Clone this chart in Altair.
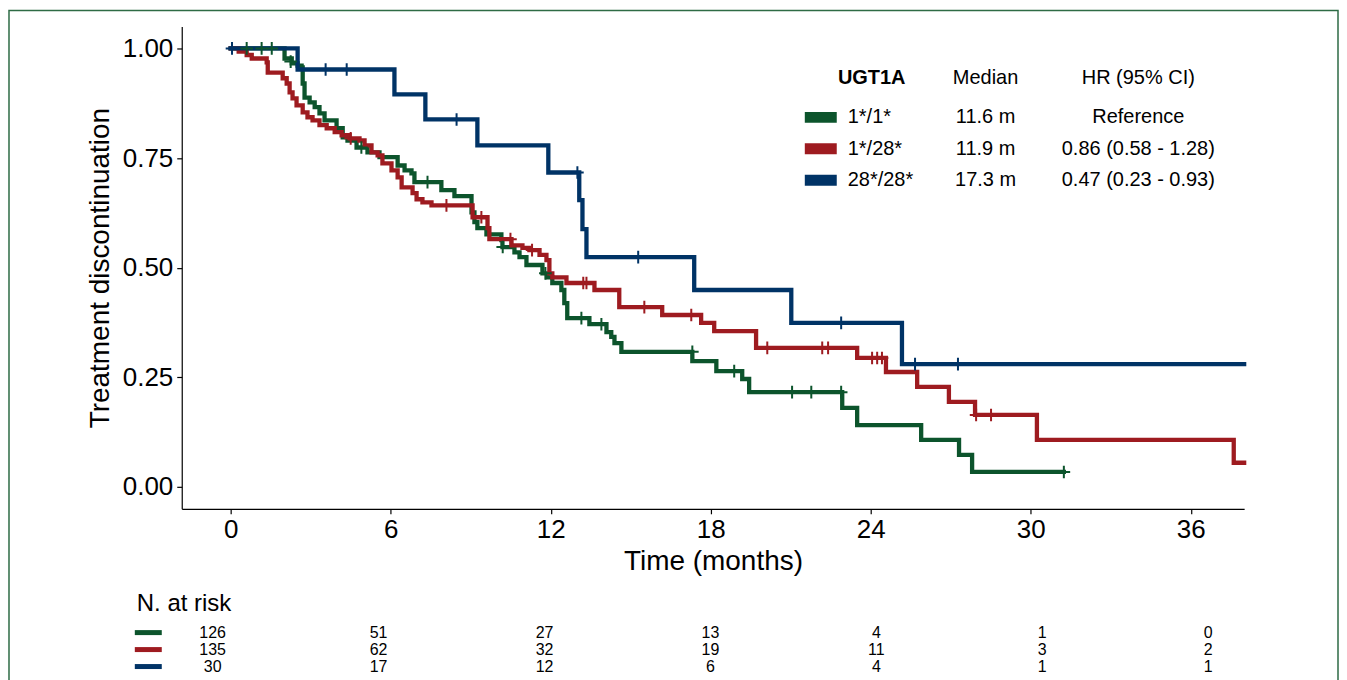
import altair as alt
import pandas as pd

FONT = "Liberation Sans"

groups = ["1*/1*", "1*/28*", "28*/28*"]
colors = ["#0C542C", "#9E1B20", "#003366"]
medians = ["11.6 m", "11.9 m", "17.3 m"]
hrs = ["Reference", "0.86 (0.58 - 1.28)", "0.47 (0.23 - 0.93)"]

# Kaplan-Meier step points (time in months, proportion)
g_t = [0, 2.02, 2.29, 2.51, 2.66, 2.70, 2.77, 2.96, 3.15, 3.33, 3.52, 3.97, 4.20, 4.38, 4.72, 5.13, 5.58,
       6.26, 6.52, 6.78, 6.89, 7.90, 8.39, 9.03, 9.14, 9.25, 9.59, 10.15, 10.19, 10.64, 10.83, 11.09, 11.69,
       11.88, 12.06, 12.40, 12.51, 12.62, 13.45, 14.09, 14.27, 14.39, 14.65, 17.31, 18.21, 19.18, 19.44,
       22.93, 23.49, 25.89, 27.31, 27.80, 31.24]
g_s = [1.0, 0.977, 0.966, 0.961, 0.957, 0.920, 0.888, 0.877, 0.866, 0.852, 0.836, 0.818, 0.797, 0.790, 0.774,
       0.763, 0.752, 0.733, 0.722, 0.715, 0.695, 0.677, 0.663, 0.626, 0.604, 0.590, 0.576, 0.563, 0.547, 0.535,
       0.524, 0.506, 0.487, 0.478, 0.465, 0.449, 0.419, 0.385, 0.371, 0.353, 0.342, 0.328, 0.308, 0.287, 0.264,
       0.246, 0.216, 0.180, 0.141, 0.107, 0.073, 0.034, 0.034]
g_ct = [0.6, 1.16, 1.54, 2.25, 4.9, 7.38, 10.2, 11.8, 13.15, 13.9, 17.31, 18.88, 21.05, 21.77, 22.89, 31.24]
g_cs = [1.0, 1.0, 1.0, 0.970, 0.774, 0.695, 0.547, 0.487, 0.385, 0.371, 0.308, 0.264, 0.216, 0.216, 0.216, 0.034]

r_t = [0, 0.3, 0.6, 0.79, 1.35, 1.39, 1.95, 2.10, 2.21, 2.32, 2.47, 2.70, 2.88, 3.07, 3.33, 3.60, 3.90, 4.16,
       4.46, 4.83, 5.02, 5.28, 5.51, 5.69, 6.03, 6.26, 6.41, 6.82, 6.97, 7.19, 7.53, 9.07, 9.63, 9.70, 10.53,
       10.94, 11.20, 11.58, 11.84, 11.95, 12.06, 12.59, 13.64, 14.57, 16.18, 17.64, 18.13, 19.70, 23.49, 24.57,
       25.74, 26.93, 27.91, 30.23, 37.61, 38.0]
r_s = [1.0, 0.993, 0.985, 0.977, 0.968, 0.945, 0.932, 0.920, 0.900, 0.886, 0.870, 0.854, 0.843, 0.836, 0.825,
       0.818, 0.809, 0.802, 0.795, 0.790, 0.779, 0.763, 0.756, 0.738, 0.722, 0.706, 0.683, 0.670, 0.656, 0.649,
       0.642, 0.615, 0.590, 0.565, 0.551, 0.545, 0.540, 0.529, 0.517, 0.487, 0.478, 0.465, 0.449, 0.410, 0.392,
       0.374, 0.355, 0.317, 0.294, 0.262, 0.228, 0.194, 0.164, 0.107, 0.055, 0.055]
r_ct = [4.5, 8.09, 9.40, 10.49, 11.3, 13.22, 13.34, 15.51, 17.27, 20.12, 22.18, 22.40, 24.05, 24.24, 24.42,
        27.95, 28.51]
r_cs = [0.795, 0.642, 0.615, 0.565, 0.540, 0.465, 0.465, 0.410, 0.392, 0.317, 0.317, 0.317, 0.294, 0.294,
        0.294, 0.164, 0.164]

b_t = [0, 2.51, 6.14, 7.30, 9.25, 11.91, 13.07, 13.19, 13.34, 17.38, 21.02, 25.17, 38.0]
b_s = [1.0, 0.952, 0.895, 0.838, 0.779, 0.717, 0.654, 0.588, 0.524, 0.449, 0.374, 0.280, 0.280]
b_ct = [0.05, 3.56, 4.35, 8.47, 13.0, 15.28, 22.89, 25.66, 27.27]
b_cs = [1.0, 0.952, 0.952, 0.838, 0.717, 0.524, 0.374, 0.280, 0.280]

risk_times = [0, 6, 12, 18, 24, 30, 36]
risk_g = [126, 51, 27, 13, 4, 1, 0]
risk_r = [135, 62, 32, 19, 11, 3, 2]
risk_b = [30, 17, 12, 6, 4, 1, 1]

x_ticks = [0, 6, 12, 18, 24, 30, 36]
y_ticks = [0, 0.25, 0.5, 0.75, 1.0]

curves = [(g_t, g_s, g_ct, g_cs), (r_t, r_s, r_ct, r_cs), (b_t, b_s, b_ct, b_cs)]
risks = [risk_g, risk_r, risk_b]

x_scale = alt.Scale(domain=[-1.835, 38.0], nice=False, zero=False)
y_scale = alt.Scale(domain=[-0.05, 1.05], nice=False, zero=False)
risk_scale = alt.Scale(domain=[-1.119, 37.30], nice=False, zero=False)

x_axis = alt.Axis(values=x_ticks, title="Time (months)", labelFontSize=26, titleFontSize=28, tickSize=5,
                  labelPadding=3, titlePadding=5, domainColor="black", tickColor="black", labelColor="black",
                  titleColor="black", grid=False, titleFontWeight="normal", domainWidth=1.2, tickWidth=1.2,
                  labelFont=FONT, titleFont=FONT, labelFlush=False)
y_axis = alt.Axis(values=y_ticks, format=".2f", title="Treatment discontinuation", labelFontSize=26,
                  titleFontSize=28, tickSize=5, labelPadding=4, titlePadding=8, domainColor="black",
                  tickColor="black", labelColor="black", titleColor="black", grid=False,
                  titleFontWeight="normal", domainWidth=1.2, tickWidth=1.2, labelFont=FONT, titleFont=FONT,
                  labelFlush=False)

PLUS = "M-1,0L1,0M0,-1L0,1"

main_layers = []
# frame around the figure
main_layers.append(
    alt.Chart(pd.DataFrame({"k": [0]})).mark_rect(fill="transparent", stroke="#2E6B45", strokeWidth=1.5)
    .encode(x=alt.value(-173), x2=alt.value(1158), y=alt.value(-16), y2=alt.value(700))
)
for (t, s, ct, cs), col in zip(curves, colors):
    df = pd.DataFrame({"time": t, "surv": s})
    main_layers.append(
        alt.Chart(df).mark_line(interpolate="step-after", strokeWidth=4.3, color=col, strokeCap="square")
        .encode(x=alt.X("time:Q", scale=x_scale, axis=x_axis),
                y=alt.Y("surv:Q", scale=y_scale, axis=y_axis))
    )
for (t, s, ct, cs), col in zip(curves, colors):
    dfc = pd.DataFrame({"time": ct, "surv": cs})
    main_layers.append(
        alt.Chart(dfc).mark_point(shape=PLUS, size=160, strokeWidth=2, filled=False, color=col, opacity=1)
        .encode(x=alt.X("time:Q", scale=x_scale, axis=x_axis),
                y=alt.Y("surv:Q", scale=y_scale, axis=y_axis))
    )

# in-plot legend table
hdr = pd.DataFrame({"txt": ["UGT1A"]})
main_layers.append(alt.Chart(hdr).mark_text(fontSize=20, fontWeight="bold", align="center", baseline="middle",
                                            color="black")
                   .encode(x=alt.value(691), y=alt.value(52), text="txt:N"))
main_layers.append(alt.Chart(pd.DataFrame({"txt": ["Median"]})).mark_text(fontSize=20, align="center",
                                                                         baseline="middle", color="black")
                   .encode(x=alt.value(805), y=alt.value(52), text="txt:N"))
main_layers.append(alt.Chart(pd.DataFrame({"txt": ["HR (95% CI)"]})).mark_text(fontSize=20, align="center",
                                                                              baseline="middle", color="black")
                   .encode(x=alt.value(958), y=alt.value(52), text="txt:N"))
for i, (g, col, med, hr) in enumerate(zip(groups, colors, medians, hrs)):
    yy = 91 + i * 31.5
    row = pd.DataFrame({"grp": [g], "median": [med], "hr": [hr]})
    base = alt.Chart(row)
    main_layers.append(base.mark_rule(strokeWidth=11, color=col)
                       .encode(x=alt.value(624), x2=alt.value(656), y=alt.value(yy)))
    main_layers.append(base.mark_text(fontSize=20, align="left", baseline="middle", color="black")
                       .encode(x=alt.value(667), y=alt.value(yy), text="grp:N"))
    main_layers.append(base.mark_text(fontSize=20, align="center", baseline="middle", color="black")
                       .encode(x=alt.value(805), y=alt.value(yy), text="median:N"))
    main_layers.append(base.mark_text(fontSize=20, align="center", baseline="middle", color="black")
                       .encode(x=alt.value(958), y=alt.value(yy), text="hr:N"))

main = alt.layer(*main_layers)

# number-at-risk table below the plot
risk_layers = []
risk_layers.append(alt.Chart(pd.DataFrame({"txt": ["N. at risk"]}))
                   .mark_text(fontSize=24, align="left", baseline="middle", color="black")
                   .encode(x=alt.value(-45), y=alt.value(578), text="txt:N"))
for i, (g, col, counts) in enumerate(zip(groups, colors, risks)):
    yy = 607 + i * 17
    dfr = pd.DataFrame({"time": risk_times, "n": counts})
    risk_layers.append(alt.Chart(dfr).mark_text(fontSize=16, align="center", baseline="middle", color="black")
                       .encode(x=alt.X("time:Q", scale=risk_scale, axis=None), y=alt.value(yy),
                               text="n:Q"))
    risk_layers.append(alt.Chart(pd.DataFrame({"grp": [g]})).mark_rule(strokeWidth=5, color=col)
                       .encode(x=alt.value(-47), x2=alt.value(-20), y=alt.value(yy)))
risk = alt.layer(*risk_layers)

chart = (
    alt.layer(main, risk)
    .resolve_scale(x="independent")
    .properties(width=1064, height=483, padding={"left": 0, "top": 1, "right": 0, "bottom": 0},
                background="white")
    .configure(font=FONT)
    .configure_view(stroke=None)
)

chart.save("out.html", embed_options={"renderer": "svg", "actions": False})
